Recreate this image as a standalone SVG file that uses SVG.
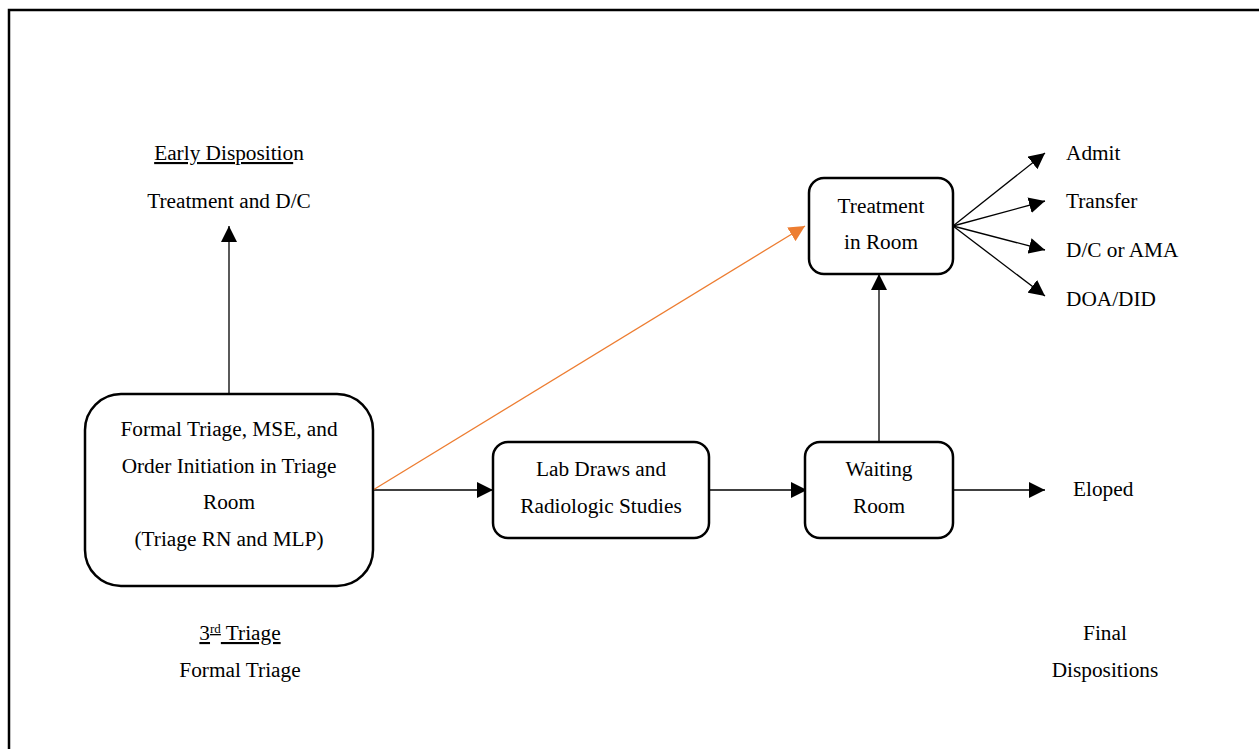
<svg xmlns="http://www.w3.org/2000/svg" width="1259" height="749" viewBox="0 0 1259 749">
<style>
text{font-family:"Liberation Serif","Times New Roman",serif;font-size:21.3px;fill:#000}
.c{text-anchor:middle}
.box{fill:#fff;stroke:#000;stroke-width:2.5}
.ln{stroke:#000;stroke-width:1.3;fill:none}
</style>
<defs>
<marker id="ah" markerUnits="userSpaceOnUse" markerWidth="18" markerHeight="16" refX="16" refY="8" orient="auto"><path d="M0,0 L16,8 L0,16 Z" fill="#000"/></marker>
<marker id="aho" markerUnits="userSpaceOnUse" markerWidth="18" markerHeight="16" refX="16" refY="8" orient="auto"><path d="M0,0 L16,8 L0,16 Z" fill="#ed7d31"/></marker>
</defs>
<rect width="1259" height="749" fill="#fff"/>
<path d="M9,749 V10 H1259" fill="none" stroke="#000" stroke-width="2.5"/>
<g id="connectors">
<line class="ln" x1="229" y1="394" x2="229" y2="226" marker-end="url(#ah)"/>
<line class="ln" x1="373" y1="490" x2="493" y2="490" marker-end="url(#ah)"/>
<line class="ln" x1="709" y1="490" x2="807" y2="490" marker-end="url(#ah)"/>
<line class="ln" x1="953" y1="490" x2="1045" y2="490" marker-end="url(#ah)"/>
<line class="ln" x1="879" y1="442" x2="879" y2="274" marker-end="url(#ah)"/>
<line x1="373" y1="490" x2="805" y2="226" stroke="#ed7d31" stroke-width="1.3" marker-end="url(#aho)"/>
<line class="ln" x1="953" y1="226" x2="1045" y2="153" marker-end="url(#ah)"/>
<line class="ln" x1="953" y1="226" x2="1045" y2="201" marker-end="url(#ah)"/>
<line class="ln" x1="953" y1="226" x2="1045" y2="250" marker-end="url(#ah)"/>
<line class="ln" x1="953" y1="226" x2="1045" y2="296" marker-end="url(#ah)"/>
</g>
<g id="triage">
<rect class="box" x="85" y="394" width="288" height="192" rx="36"/>
<text class="c" x="229" y="436">Formal Triage, MSE, and</text>
<text class="c" x="229" y="473">Order Initiation in Triage</text>
<text class="c" x="229" y="509">Room</text>
<text class="c" x="229" y="546">(Triage RN and MLP)</text>
</g>
<g id="lab">
<rect class="box" x="493" y="442" width="216" height="96" rx="15"/>
<text class="c" x="601" y="476">Lab Draws and</text>
<text class="c" x="601" y="513">Radiologic Studies</text>
</g>
<g id="waiting">
<rect class="box" x="805" y="442" width="148" height="96" rx="15"/>
<text class="c" x="879" y="476">Waiting</text>
<text class="c" x="879" y="513">Room</text>
</g>
<g id="treatment">
<rect class="box" x="809" y="178" width="144" height="96" rx="15"/>
<text class="c" x="881" y="213">Treatment</text>
<text class="c" x="881" y="249">in Room</text>
</g>
<g id="early">
<text class="c" x="229" y="160"><tspan text-decoration="underline">Early Dispositio</tspan>n</text>
<text class="c" x="229" y="208">Treatment and D/C</text>
</g>
<g id="third">
<text class="c" x="240" y="640" text-decoration="underline">3<tspan font-size="13" dy="-7">rd</tspan><tspan dy="7"> Triage</tspan></text>
<text class="c" x="240" y="677">Formal Triage</text>
</g>
<g id="final">
<text class="c" x="1105" y="640">Final</text>
<text class="c" x="1105" y="677">Dispositions</text>
</g>
<g id="outcomes">
<text x="1066" y="160">Admit</text>
<text x="1066" y="208">Transfer</text>
<text x="1066" y="257">D/C or AMA</text>
<text x="1066" y="306">DOA/DID</text>
<text x="1073" y="496">Eloped</text>
</g>
</svg>
